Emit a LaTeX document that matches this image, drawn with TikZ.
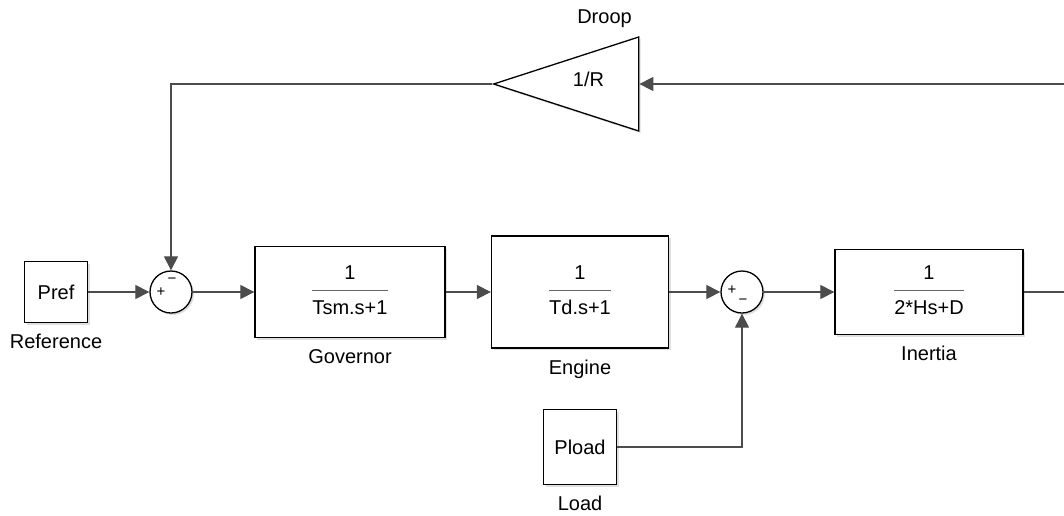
\documentclass[tikz,border=0pt]{standalone}
\usepackage{fontspec}
\usepackage{colortbl}
\setmainfont{Liberation Sans}
\usetikzlibrary{arrows.meta,shapes.geometric,shadows}
\tikzset{%
    block/.style={%
        draw=black, line width=1.3pt, fill=white, inner sep=0pt,
        drop shadow={shadow xshift=2pt, shadow yshift=-2pt, opacity=0.25, fill=gray}
    },
    sum/.style={%
        block, shape=circle, minimum size=42pt
    },
    gain/.style={%
        block, shape=isosceles triangle, shape border rotate=180,
        isosceles triangle stretches, minimum width=94pt, minimum height=145pt
    },
    sign/.style={%
        font=\fontsize{15}{17}\selectfont, inner sep=0pt
    },
    signal/.style={%
        draw=black!70, line width=1.1pt, -{Triangle[length=14pt,width=14pt]}
    },
    wire/.style={%
        draw=black!70, line width=1.1pt
    },
    every label/.style={%
        font=\fontsize{20}{24}\selectfont, inner sep=0pt,
        text height=1.4ex, text depth=0.3ex
    },
    label distance=18pt
}
\newcommand{\blockfrac}[2]{%
    \begin{tabular}{@{}c@{}}#1\\[3pt]\arrayrulecolor{black!60}\hline\rule{0pt}{24pt}#2\end{tabular}}

\begin{document}
\begin{tikzpicture}[x=1pt, y=-1pt, font=\fontsize{20}{24}\selectfont]
    \useasboundingbox (0,0) rectangle (1064,515);
    \node[block, minimum width=63pt, minimum height=61pt, label=below:Reference] (ref) at (56,292) {Pref};
    \node[sum,
        label={[sign, label distance=0pt, xshift=-10pt, yshift=-2pt]center:+},
        label={[sign, label distance=0pt, xshift=1pt, yshift=11pt]center:−}] (sum1) at (171,292) {};
    \node[block, minimum width=190pt, minimum height=91pt, label=below:Governor] (gov) at (350,292) {\blockfrac{1}{Tsm.s+1}};
    \node[block, minimum width=177pt, minimum height=112pt, label=below:Engine] (eng) at (580,292) {\blockfrac{1}{Td.s+1}};
    \node[sum,
        label={[sign, label distance=0pt, xshift=-10pt, yshift=0pt]center:+},
        label={[sign, label distance=0pt, xshift=1pt, yshift=-10pt]center:−}] (sum2) at (742,292) {};
    \node[block, minimum width=188pt, minimum height=85pt, label=below:Inertia] (inertia) at (929,292) {\blockfrac{1}{2*Hs+D}};
    \node[block, minimum width=73pt, minimum height=75pt, label=below:Load] (load) at (580,447) {Pload};
    \node[gain, anchor=apex,
        label={[label distance=22pt]above:Droop},
        label={[label distance=0pt, xshift=-16pt]center:1/R}] (droop) at (492,84) {};
    \coordinate (out) at (1064,292);
    \coordinate (fb) at (1064,84);
    \draw[signal] (ref) -- (sum1);
    \draw[signal] (sum1) -- (gov);
    \draw[signal] (gov) -- (eng);
    \draw[signal] (eng) -- (sum2);
    \draw[signal] (sum2) -- (inertia);
    \draw[wire] (inertia) -- (out);
    \draw[signal] (fb) -- (droop.east);
    \draw[signal] (droop.apex) -| (sum1);
    \draw[signal] (load) -| (sum2);
\end{tikzpicture}
\end{document}
